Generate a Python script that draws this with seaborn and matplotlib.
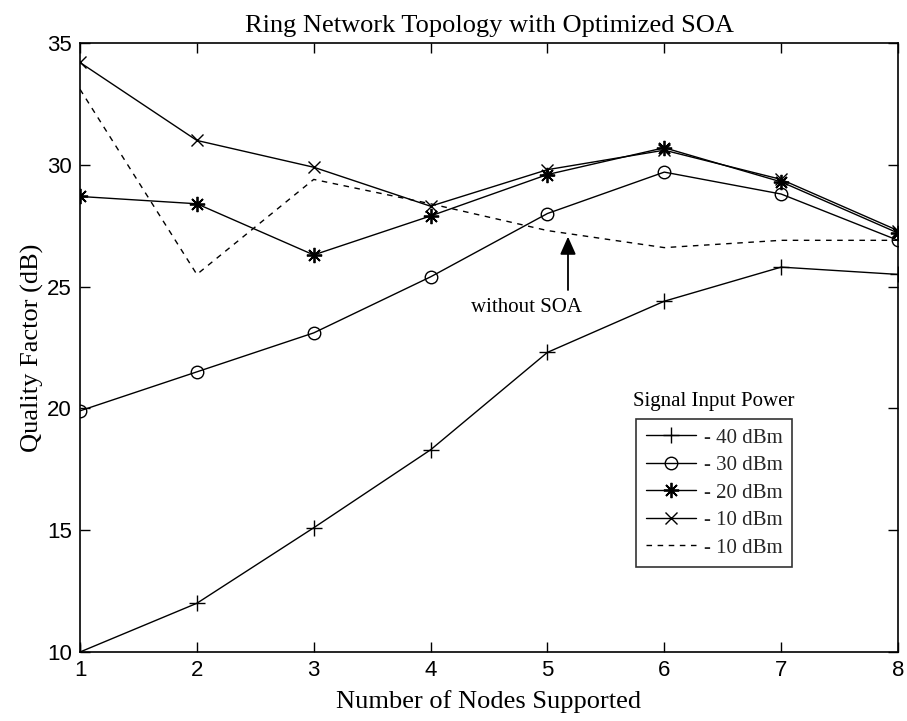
import matplotlib
matplotlib.use("Agg")
import matplotlib.pyplot as plt
import seaborn as sns
import pandas as pd
from matplotlib.lines import Line2D

# Quality factor (dB) versus number of ring nodes, per signal input power
nodes = [1, 2, 3, 4, 5, 6, 7, 8]
q_m40 = [10.0, 12.0, 15.1, 18.3, 22.3, 24.4, 25.8, 25.5]
q_m30 = [19.9, 21.5, 23.1, 25.4, 28.0, 29.7, 28.8, 26.9]
q_m20 = [28.7, 28.4, 26.3, 27.9, 29.6, 30.7, 29.3, 27.2]
q_m10 = [34.2, 31.0, 29.9, 28.3, 29.8, 30.6, 29.4, 27.3]
q_m10_no_soa = [33.1, 25.5, 29.4, 28.4, 27.3, 26.6, 26.9, 26.9]

legend_labels = ["- 40 dBm", "- 30 dBm", "- 20 dBm", "- 10 dBm", "- 10 dBm"]
x_ticks = [1, 2, 3, 4, 5, 6, 7, 8]
y_ticks = [10, 15, 20, 25, 30, 35]

sns.set_theme(style="white")
plt.rcParams["font.family"] = ["Liberation Serif", "DejaVu Serif"]
tick_font = ["Liberation Sans", "DejaVu Sans"]

fig = plt.figure(figsize=(9.07, 7.21), dpi=100)
ax = fig.add_axes([80 / 907, 1 - 652 / 721, 818 / 907, 609 / 721])

asterisk = (8, 2, 0)
series = [
    (q_m40, dict(marker="+", markersize=11, markeredgewidth=1.0, linestyle="-")),
    (q_m30, dict(marker="o", markersize=9, markerfacecolor="none", markeredgewidth=1.0, linestyle="-")),
    (q_m20, dict(marker=asterisk, markersize=11, markeredgewidth=1.3, linestyle="-")),
    (q_m10, dict(marker="x", markersize=8, markeredgewidth=1.0, linestyle="-")),
    (q_m10_no_soa, dict(marker=None, linestyle=(0, (4, 4)))),
]

handles = []
for (vals, style), lab in zip(series, legend_labels):
    df = pd.DataFrame({"nodes": nodes, "q": vals})
    sns.lineplot(data=df, x="nodes", y="q", ax=ax, color="black", linewidth=1.0,
                 markeredgecolor="black", **style)
    handles.append(Line2D([], [], color="black", linewidth=1.0, markeredgecolor="black", **style))

ax.set_xlim(1, 8)
ax.set_ylim(10, 35)
ax.set_xticks(x_ticks)
ax.set_yticks(y_ticks)
ax.set_xticklabels([str(v) for v in x_ticks], family=tick_font, fontsize=16)
ax.set_yticklabels([str(v) for v in y_ticks], family=tick_font, fontsize=16)
ax.tick_params(direction="in", length=7, width=1.0, top=True, right=True,
               bottom=True, left=True, pad=6, colors="black")
for sp in ax.spines.values():
    sp.set_color("black")
    sp.set_linewidth(1.2)

ax.set_xlabel("Number of Nodes Supported", fontsize=19, color="black", labelpad=6)
ax.set_ylabel("Quality Factor (dB)", fontsize=19, color="black", labelpad=2)
ax.set_title("Ring Network Topology with Optimized SOA", fontsize=19, color="black", pad=8)

# annotation pointing at the curve measured without the amplifier
ax.annotate("", xy=(5.176, 27.05), xytext=(5.176, 24.86),
            arrowprops=dict(arrowstyle="-|>,head_length=0.9,head_width=0.4",
                            color="black", lw=1.3, shrinkA=0, shrinkB=0))
ax.text(4.825, 24.16, "without SOA", ha="center", va="center", fontsize=15, color="black")

leg = ax.legend(handles=handles, labels=legend_labels, loc="upper left",
                bbox_to_anchor=(0.680, 0.383), borderaxespad=0, fontsize=15,
                handlelength=2.4, handletextpad=0.4, labelspacing=0.38,
                fancybox=False, frameon=True, borderpad=0.45)
leg.get_frame().set_edgecolor("black")
leg.get_frame().set_linewidth(1.2)
ax.text(0.775, 0.412, "Signal Input Power", transform=ax.transAxes,
        ha="center", va="center", fontsize=15, color="black")

fig.savefig("out.png", dpi=100)
